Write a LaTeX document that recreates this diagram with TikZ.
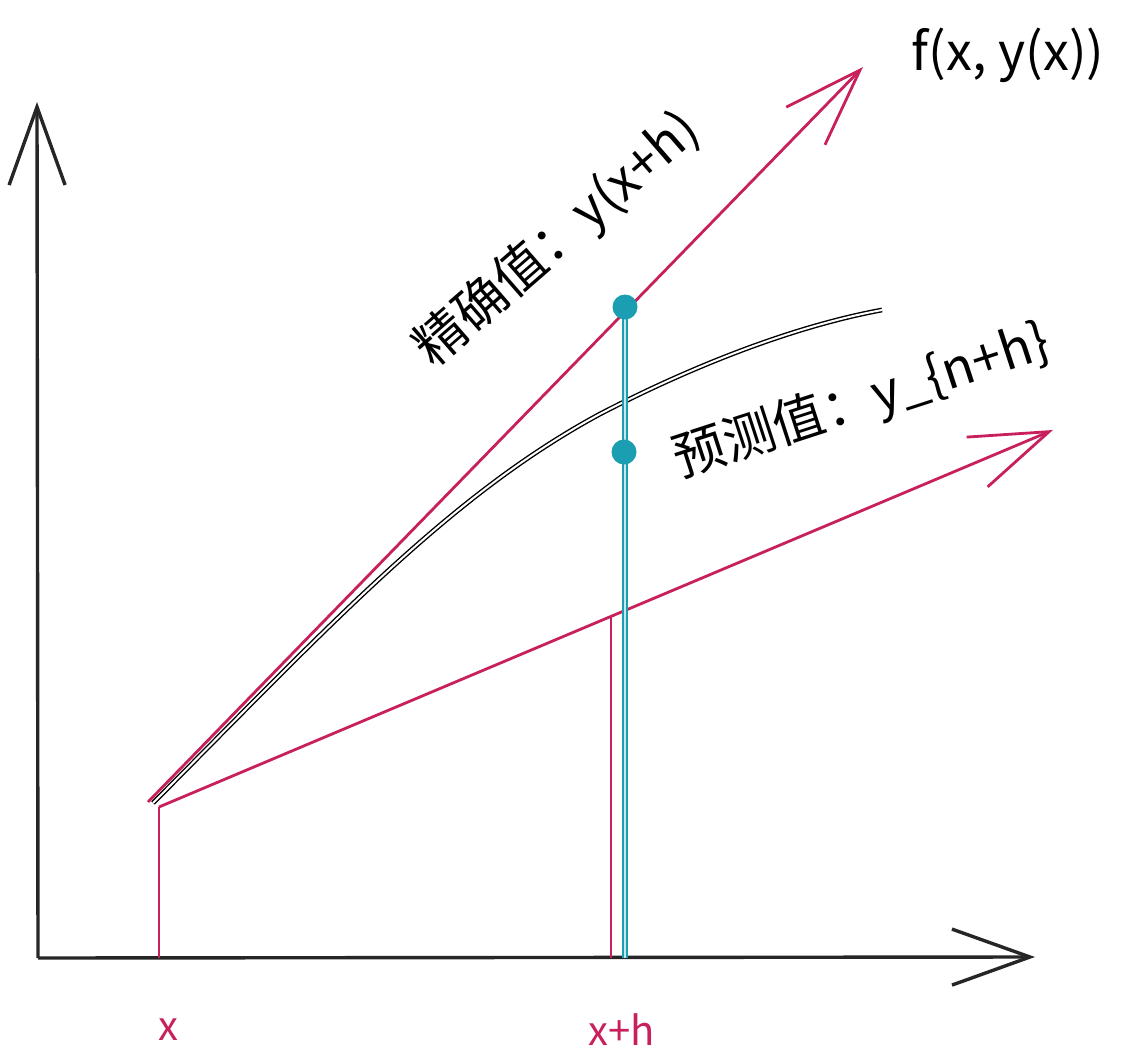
\documentclass[tikz,border=0pt]{standalone}
\usepackage{fontspec}
\setmainfont{Noto Sans CJK SC}
\usetikzlibrary{arrows.meta}
\definecolor{pinkc}{RGB}{200,32,92}
\definecolor{tealc}{RGB}{28,158,178}
\begin{document}
\begin{tikzpicture}[x=1pt,y=-1pt,
  axisline/.style={draw=black!85, line width=3.4pt, -{Straight Barb[length=78pt,width=56pt]}},
  pinkline/.style={draw=pinkc, line width=2.8pt},
  pinkarrow/.style={pinkline, -{Straight Barb[length=78pt,width=54pt]}},
  curveline/.style={draw=black, line width=1.4pt, double=white, double distance=2pt},
  tealline/.style={draw=tealc, line width=2pt, double=tealc!25, double distance=2.5pt},
  dotnode/.style={circle, fill=tealc, minimum size=25pt, inner sep=0pt},
  lbl/.style={text=black, inner sep=0pt},
  xlbl/.style={text=pinkc, inner sep=0pt, font=\fontsize{40}{44}\selectfont}]
\useasboundingbox (0,0) rectangle (1136,1049);
\fill[white] (0,0) rectangle (1136,1049);

% coordinates
\coordinate (O) at (38,958);
\coordinate (ytip) at (37,102);
\coordinate (xtip) at (1035,957);
\coordinate (xbase) at (159,958);
\coordinate (xstart) at (159,807);
\coordinate (ustart) at (148,802);
\coordinate (utip) at (863,67);
\coordinate (ltip) at (1053,430);
\coordinate (hbase) at (611,958);
\coordinate (hmeet) at (611,616);
\coordinate (tbase) at (625,958);
\coordinate (cstart) at (153,803);
\coordinate (cmid) at (600,414);
\coordinate (cend) at (882,310);

% axes
\draw[axisline] (O) -- (ytip);
\draw[axisline] (O) -- (xtip);

% pink lines
\draw[pinkline] (xbase) -- (xstart);
\draw[pinkarrow] (ustart) -- (utip);
\draw[pinkarrow] (xstart) -- (ltip);
\draw[pinkline] (hbase) -- (hmeet);

% black curve
\draw[curveline] (cstart) .. controls (330,625) and (450,495) .. (cmid)
  .. controls (700,362) and (800,325) .. (cend);

% teal
\draw[tealline] (tbase) -- (625,307);
\node[dotnode] (d1) at (625,307) {};
\node[dotnode] (d2) at (624,452) {};

% labels
\node[lbl, rotate=41, font=\fontsize{52}{56}\selectfont] (exact) at (558,240) {精确值：y(x+h)};
\node[lbl, rotate=18, font=\fontsize{52}{56}\selectfont] (pred) at (862,402) {预测值：y\_\{n+h\}};
\node[lbl, font=\fontsize{52}{56}\selectfont] (fx) at (1008,55) {f(x, y(x))};
\node[xlbl] (xl) at (168,1030) {x};
\node[xlbl] (xhl) at (622,1030) {x+h};
\end{tikzpicture}
\end{document}
